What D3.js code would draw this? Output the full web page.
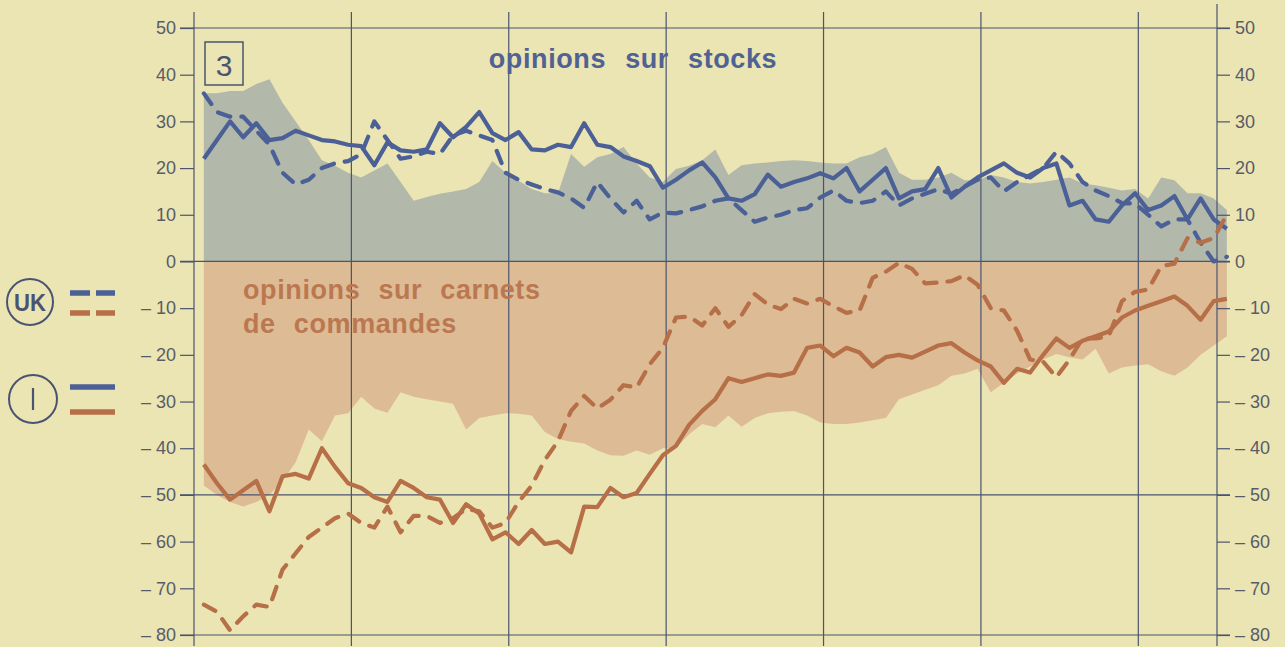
<!DOCTYPE html>
<html><head><meta charset="utf-8">
<script src="https://cdn.jsdelivr.net/npm/d3@7"></script>
<style>html,body{margin:0;padding:0;background:#ebe4b3;}svg{display:block}</style>
</head><body>
<svg id="chart" width="1285" height="647"></svg>
<script>
// Monthly observations (79 months), x = month index
const euStocks = [36,36,36.5,36.5,38,39,34,30,26,21.7,20.5,19,18,19.5,21,17,13,13.8,14.5,15,15.5,17,21.5,19,17.3,15.5,14.6,14.6,23,20.3,22.3,23,24.5,21,18,17,19.8,20.5,21.7,24,18.5,20.6,21,21.2,21.5,21.7,21.5,21.2,21,21,22.3,23,24.5,19,17.5,17.5,18,19,17.4,17.4,18.5,18,17,16.7,17,17.5,18,16.7,16.3,15.8,15.2,15.5,13.5,18,17.4,14.6,14.6,13.5,11];
const euOrders = [-48,-50,-51.5,-52.5,-51.5,-50,-47,-43,-36,-38.5,-33,-32.5,-29,-31.5,-32.4,-28,-29,-29.5,-30,-30.5,-36,-33.5,-33,-32.5,-32.6,-33,-36.5,-38,-38.6,-39,-40.5,-41.5,-41.6,-40.5,-41.4,-40,-40,-37,-34.8,-35.5,-33,-35.4,-33.5,-32.5,-32.2,-32,-33,-34.5,-34.8,-34.8,-34.5,-34,-33.5,-29.5,-28.5,-27.5,-26.5,-24.5,-24,-23,-28,-26,-24,-22.5,-21,-19.8,-20.5,-21,-18.7,-24,-22.7,-22.3,-22,-23.5,-24.5,-22.7,-20,-18,-16];
const iStocks = [22,26,30,26.6,29.6,26,26.4,28,27,26,25.7,25,24.7,20.6,25.5,23.8,23.5,24,29.6,26.6,28.8,32,27.5,26,27.7,24,23.8,25,24.5,29.6,25,24.5,22.5,21.5,20.4,15.8,17.5,19.5,21.2,18,13.5,13,14.4,18.6,16,17,17.8,18.9,17.8,20,15,17.5,20,13.5,15,15.5,20,13.7,16,18,19.5,21,19,18,20,21,12,13,9,8.5,12,14.6,11,12,14,9,13.5,9,7];
const ukStocks = [36,32,31,31,28,25,19,16.5,17.5,20,21,21.5,23,30,26,22,22.5,23.5,23,27,28,27,26,19,17.5,16.5,15.5,14.8,13.5,11.5,17,13.5,10.5,13,9,10.5,10.3,11,11.8,13,13.5,11,8.5,9.4,10,11,11.4,13.7,15.2,13,12.5,13,15,12,13.5,14.5,15.5,14.5,16,17.5,18,15,17,18.5,20,23.5,21,17,15.2,14,12.5,12.4,10,7.5,9,9,4,0,1];
const iOrders = [-43.5,-47.5,-51,-49,-47,-53.5,-46,-45.5,-46.5,-40,-44,-47.5,-48.5,-50.5,-51.5,-47,-48.5,-50.5,-51,-56,-52,-54,-59.5,-58,-60.5,-57.5,-60.5,-60,-62.3,-52.5,-52.6,-48.5,-50.5,-49.6,-45.5,-41.5,-39.5,-35,-32,-29.5,-25,-25.8,-25,-24.2,-24.5,-23.8,-18.5,-18,-20.3,-18.5,-19.5,-22.5,-20.5,-20,-20.6,-19.3,-18,-17.5,-19.5,-21.2,-22.5,-26,-23,-23.8,-20,-16.5,-18.5,-17,-16,-15,-12,-10.5,-9.5,-8.5,-7.5,-9.5,-12.5,-8.5,-8];
const ukOrders = [-73.5,-75,-79,-76,-73.5,-74,-66,-62.5,-59,-57,-55,-54,-56,-57,-52.5,-58,-54.5,-54.5,-56,-55,-53,-53.5,-57,-56,-51.5,-48,-42.5,-38.5,-32,-28.8,-31.5,-29.6,-26.5,-27,-22,-18.5,-12,-11.8,-13.7,-10,-14,-11.5,-7,-9.2,-10.2,-8,-9,-8,-9.6,-11,-10.5,-3.5,-2.2,-0.3,-1.6,-4.7,-4.5,-4.2,-3,-5,-10,-10.5,-14.8,-21,-21.5,-24.8,-21,-16.5,-16.5,-16,-8.5,-6.5,-6,-1,-0.5,5,4,5,10];

const yTicks = [50,40,30,20,10,0,-10,-20,-30,-40,-50,-60,-70,-80];
const yGrid = [50,0,-50,-80];
const yearBounds = [0,12,24,36,48,60,72,78];
const titleStocks = "opinions sur stocks";
const titleOrders = ["opinions sur carnets","de commandes"];
const boxLabel = "3";

const svg = d3.select("#chart");
const W = 1285, H = 647;
const x = d3.scaleLinear().domain([0,78]).range([194,1217]);
const y = d3.scaleLinear().domain([-80,50]).range([635,28]);
const px = i => x(i + 0.75);

const bg = "#ebe4b3", grid = "#4a5470", blue = "#4b6096", orange = "#b66f47";
const blueArea = "#b2b8aa", orangeArea = "#dcbb95";
const FONT = "'Liberation Sans', Arial, sans-serif";

svg.append("rect").attr("width",W).attr("height",H).attr("fill",bg);

// areas
svg.append("path").datum(euStocks)
  .attr("fill",blueArea)
  .attr("d", d3.area().x((d,i)=>px(i)).y0(y(0)).y1(d=>y(d)));
svg.append("path").datum(euOrders)
  .attr("fill",orangeArea)
  .attr("d", d3.area().x((d,i)=>px(i)).y0(y(0)).y1(d=>y(d)));

// grid verticals
svg.append("g").selectAll("line").data(yearBounds).join("line")
  .attr("x1",d=>x(d)).attr("x2",d=>x(d))
  .attr("y1",d=> d===78 ? 4 : 12).attr("y2",646)
  .attr("stroke",grid).attr("stroke-width",1.2);
// grid horizontals
svg.append("g").selectAll("line").data(yGrid).join("line")
  .attr("x1",180).attr("x2",1230)
  .attr("y1",d=>y(d)).attr("y2",d=>y(d))
  .attr("stroke",grid).attr("stroke-width",1.2);

// axes
const fmt = d => d < 0 ? "\u2013 " + Math.abs(d) : String(d);
const left = d3.axisLeft(y).tickValues(yTicks).tickSize(14).tickPadding(4).tickFormat(fmt);
const right = d3.axisRight(y).tickValues(yTicks).tickSize(13).tickPadding(5).tickFormat(fmt);
const gl = svg.append("g").attr("transform",`translate(${x(0)},0)`).call(left);
const gr = svg.append("g").attr("transform",`translate(${x(78)},0)`).call(right);
[gl,gr].forEach(g=>{
  g.select(".domain").remove();
  g.selectAll(".tick line").attr("stroke",grid).attr("stroke-width",1.2);
  g.selectAll(".tick text").attr("fill","#585c68")
    .style("font-family",FONT).style("font-size","18px");
});

// lines
const line = d3.line().x((d,i)=>px(i)).y(d=>y(d));
function draw(data,color,dashed){
  svg.append("path").datum(data).attr("d",line)
    .attr("fill","none").attr("stroke",color).attr("stroke-width",4.2)
    .attr("stroke-linejoin","round").attr("stroke-linecap", dashed ? "round":"butt")
    .attr("stroke-dasharray", dashed ? "13,11" : null);
}
draw(iStocks, blue, false);
draw(ukStocks, blue, true);
draw(iOrders, orange, false);
draw(ukOrders, orange, true);

// titles
svg.append("text").attr("x",633).attr("y",68).attr("text-anchor","middle")
  .attr("fill","#4f6293").style("font-family",FONT)
  .style("font-weight","bold").style("font-size","27px")
  .style("letter-spacing","0.6px").style("word-spacing","11px")
  .text(titleStocks);
svg.append("text").attr("fill","#bb7850")
  .style("font-family",FONT)
  .style("font-weight","bold").style("font-size","27px")
  .style("letter-spacing","0.6px").style("word-spacing","10px")
  .selectAll("tspan").data(titleOrders).join("tspan")
  .attr("x",243).attr("y",(d,i)=>299+i*34).text(d=>d);

// box 3
svg.append("rect").attr("x",205).attr("y",42).attr("width",38).attr("height",43)
  .attr("fill","none").attr("stroke",grid).attr("stroke-width",1.5);
svg.append("text").attr("x",224).attr("y",76).attr("text-anchor","middle")
  .attr("fill","#4a5470").style("font-family",FONT)
  .style("font-size","30px").text(boxLabel);

// legend
const lg = svg.append("g");
lg.append("circle").attr("cx",30).attr("cy",302).attr("r",23)
  .attr("fill","none").attr("stroke","#4a5470").attr("stroke-width",2);
lg.append("text").attr("x",30).attr("y",311).attr("text-anchor","middle")
  .attr("fill","#4a5470").style("font-family",FONT).style("font-weight","bold")
  .style("font-size","24px").attr("textLength",32).attr("lengthAdjust","spacingAndGlyphs").text("UK");
lg.append("circle").attr("cx",33).attr("cy",399).attr("r",24)
  .attr("fill","none").attr("stroke","#4a5470").attr("stroke-width",2);
lg.append("line").attr("x1",33).attr("x2",33).attr("y1",388).attr("y2",410)
  .attr("stroke","#4a5470").attr("stroke-width",2.2);
[[293,blue,true],[313,orange,true],[387,blue,false],[412,orange,false]].forEach(([yy,c,dash])=>{
  lg.append("line").attr("x1",70).attr("x2",115).attr("y1",yy).attr("y2",yy)
    .attr("stroke",c).attr("stroke-width",5.5)
    .attr("stroke-dasharray", dash ? "20,6" : null);
});
</script>
</body></html>
